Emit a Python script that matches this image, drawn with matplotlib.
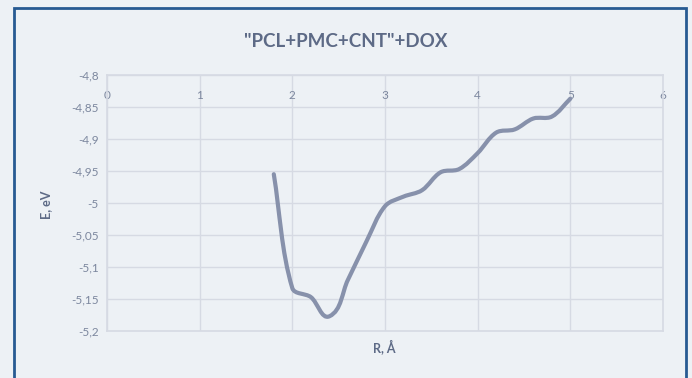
import matplotlib.pyplot as plt
import matplotlib as mpl
import numpy as np
from matplotlib.path import Path
from matplotlib.patches import PathPatch, Rectangle
from matplotlib.ticker import FuncFormatter, MultipleLocator

mpl.rcParams["font.family"] = ["Lato", "DejaVu Sans"]

# data
r_values = [1.8, 2.0, 2.2, 2.4, 2.6, 2.8, 3.0, 3.2, 3.4, 3.6, 3.8, 4.0, 4.2, 4.4, 4.6, 4.8, 5.0]
e_values = [-4.955, -5.133, -5.147, -5.177, -5.12, -5.06, -5.005, -4.99, -4.98, -4.952,
            -4.947, -4.922, -4.89, -4.885, -4.868, -4.865, -4.837]

title = '"PCL+PMC+CNT"+DOX'
x_label = "R, Å"
y_label = "E, eV"

bg = "#edf1f5"
grid_col = "#d6dae3"
line_col = "#8791ab"
text_col = "#7c879e"
label_col = "#5d6a86"
frame_col = "#275a92"

fig = plt.figure(figsize=(6.92, 3.78), dpi=100, facecolor=bg)
ax = fig.add_axes([0.1546, 0.1243, 0.8035, 0.6773])
ax.set_facecolor(bg)
ax.set_xlim(0, 6)
ax.set_ylim(-5.2, -4.8)

# smoothed line (Excel style): Bezier through the points, worked out in pixel space
fig.canvas.draw()
pts = ax.transData.transform(np.column_stack([r_values, e_values]))
verts = [pts[0]]
codes = [Path.MOVETO]
for i in range(len(pts) - 1):
    p0 = pts[i - 1] if i > 0 else pts[i]
    p1 = pts[i]
    p2 = pts[i + 1]
    p3 = pts[i + 2] if i + 2 < len(pts) else pts[i + 1]
    seg = np.hypot(*(p2 - p1))
    t1 = (p2 - p0) / (np.hypot(*(p2 - p0)) or 1)
    t2 = (p3 - p1) / (np.hypot(*(p3 - p1)) or 1)
    verts += [p1 + t1 * seg / 3, p2 - t2 * seg / 3, p2]
    codes += [Path.CURVE4] * 3
verts = ax.transData.inverted().transform(np.array(verts))
ax.add_patch(PathPatch(Path(verts, codes), facecolor="none", edgecolor=line_col,
                       lw=3, capstyle="round", joinstyle="round", zorder=3))

ax.xaxis.set_major_locator(MultipleLocator(1))
ax.yaxis.set_major_locator(MultipleLocator(0.05))

fmt = FuncFormatter(lambda v, p: ("%g" % round(v, 3)).replace(".", ","))
ax.yaxis.set_major_formatter(fmt)
ax.xaxis.set_major_formatter(fmt)

# category axis crosses at the top, labels just under it
ax.xaxis.tick_top()
ax.tick_params(axis="x", length=0, pad=-19, labelsize=8.5, labelcolor=text_col)
ax.tick_params(axis="y", length=0, pad=6, labelsize=8.5, labelcolor=text_col)

ax.grid(True, color=grid_col, lw=1)
ax.set_axisbelow(True)
for s in ax.spines.values():
    s.set_color(grid_col)
    s.set_linewidth(1.2)

fig.text(0.5, 0.889, title, ha="center", va="center", fontsize=13.5,
         fontweight="bold", color=label_col)
fig.text(0.555, 0.082, x_label, ha="center", va="center", fontsize=9,
         fontweight="bold", color=label_col)
fig.text(0.066, 0.458, y_label, ha="center", va="center", fontsize=9,
         fontweight="bold", color=label_col, rotation=90)

# chart area frame
fig.patches.append(Rectangle((14 / 692, -0.05), 672 / 692, 1.05 - 8 / 378,
                             transform=fig.transFigure, fill=False,
                             edgecolor=frame_col, lw=2))

fig.savefig("out.png", dpi=100, facecolor=bg)
